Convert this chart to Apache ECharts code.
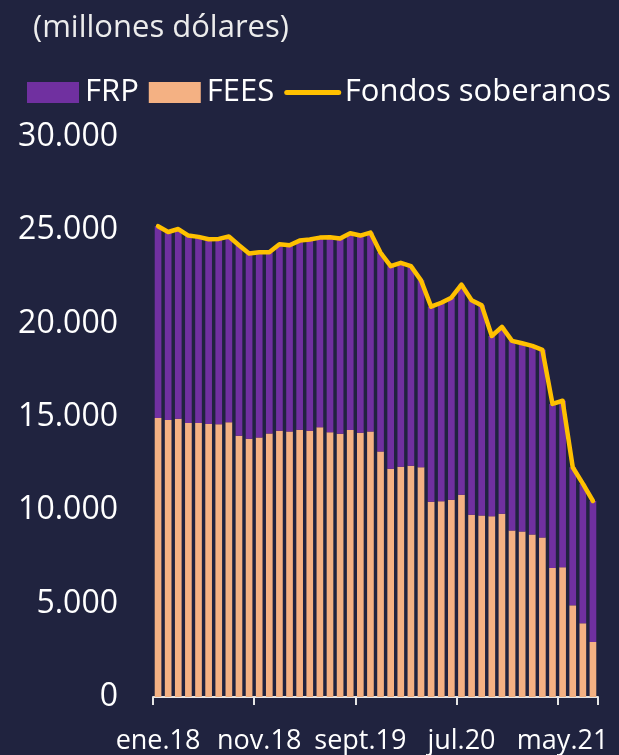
<!DOCTYPE html>
<html>
<head>
<meta charset="utf-8">
<script src="https://cdn.jsdelivr.net/npm/echarts@6/dist/echarts.min.js"></script>
<style>
  html, body { margin: 0; padding: 0; background: #20233f; }
  #chart { width: 619px; height: 755px; }
</style>
</head>
<body>
<div id="chart"></div>
<script>
// Monthly categories, ene.18 .. ago.21
const months = ['ene', 'feb', 'mar', 'abr', 'may', 'jun', 'jul', 'ago', 'sept', 'oct', 'nov', 'dic'];
const categories = [];
for (let y = 18; y <= 21; y++) {
  for (let m = 0; m < 12; m++) {
    if (y === 21 && m > 7) break;
    categories.push(months[m] + '.' + y);
  }
}

// Fondo de Estabilización Económica y Social (millones de dólares)
const fees = [
  14950, 14840, 14910, 14680, 14680, 14630, 14610, 14720, 14000, 13830, 13900, 14110,
  14270, 14220, 14320, 14270, 14450, 14180, 14100, 14310, 14150, 14220, 13150, 12230,
  12330, 12390, 12310, 10460, 10480, 10570, 10840, 9770, 9720, 9680, 9820, 8920,
  8860, 8700, 8540, 6910, 6950, 4910, 3950, 2950
];

// Fondo de Reserva de Pensiones (millones de dólares)
const frp = [
  10270, 10070, 10160, 10040, 9970, 9890, 9930, 9950, 10200, 9930, 9930, 9720,
  9990, 9980, 10130, 10240, 10160, 10450, 10460, 10530, 10570, 10660, 10650, 10850,
  10930, 10690, 10010, 10450, 10640, 10820, 11250, 11480, 11260, 9660, 10010, 10160,
  10090, 10110, 10060, 8790, 8920, 7400, 7480, 7550
];

// Total de fondos soberanos = FEES + FRP
const total = fees.map((v, i) => v + frp[i]);

const yTicks = [0, 5000, 10000, 15000, 20000, 25000, 30000];

const FONT = '"Open Sans", "Noto Sans", sans-serif';
const fmt = v => String(v).replace(/\B(?=(\d{3})+(?!\d))/g, '.');

const chart = echarts.init(document.getElementById('chart'), null, { renderer: 'canvas' });
chart.setOption({
  backgroundColor: '#20233f',
  animation: false,
  textStyle: { fontFamily: FONT },
  title: {
    text: '(millones dólares)',
    left: 28,
    top: 8,
    textStyle: { color: '#ececec', fontSize: 31, fontWeight: 'normal', fontFamily: FONT }
  },
  legend: {
    left: 22,
    top: 72,
    itemWidth: 52,
    itemHeight: 21,
    itemGap: 10,
    textStyle: { color: '#ffffff', fontSize: 31, fontFamily: FONT, padding: [0, 0, 0, 1] },
    data: [
      { name: 'FRP', icon: 'rect' },
      { name: 'FEES', icon: 'rect' },
      {
        name: 'Fondos soberanos',
        itemStyle: { opacity: 0 },
        lineStyle: { color: '#ffc000', width: 5, cap: 'round' }
      }
    ]
  },
  grid: { left: 153, right: 21, top: 137, bottom: 56, containLabel: false },
  xAxis: {
    type: 'category',
    data: categories,
    boundaryGap: true,
    axisLine: { show: true, lineStyle: { color: '#e6e6e6', width: 2 } },
    axisTick: { show: true, interval: 9, length: 8, lineStyle: { color: '#e6e6e6', width: 2 } },
    axisLabel: { interval: 9, color: '#ffffff', fontSize: 27, margin: 31, fontFamily: FONT }
  },
  yAxis: {
    type: 'value',
    min: yTicks[0],
    max: yTicks[yTicks.length - 1],
    interval: 5000,
    axisLine: { show: false },
    axisTick: { show: false },
    splitLine: { show: false },
    axisLabel: { color: '#ffffff', fontSize: 32, margin: 35, fontFamily: FONT, formatter: fmt }
  },
  series: [
    {
      name: 'FEES',
      type: 'bar',
      stack: 'fondos',
      data: fees,
      barCategoryGap: '34%',
      itemStyle: { color: '#f4b183' }
    },
    {
      name: 'FRP',
      type: 'bar',
      stack: 'fondos',
      data: frp,
      barCategoryGap: '34%',
      itemStyle: { color: '#7030a0' }
    },
    {
      name: 'Fondos soberanos',
      type: 'line',
      data: total,
      symbol: 'none',
      showSymbol: false,
      lineStyle: { color: '#ffc000', width: 4.5, cap: 'round', join: 'round' },
      itemStyle: { color: '#ffc000' },
      z: 5
    }
  ]
});
</script>
</body>
</html>
